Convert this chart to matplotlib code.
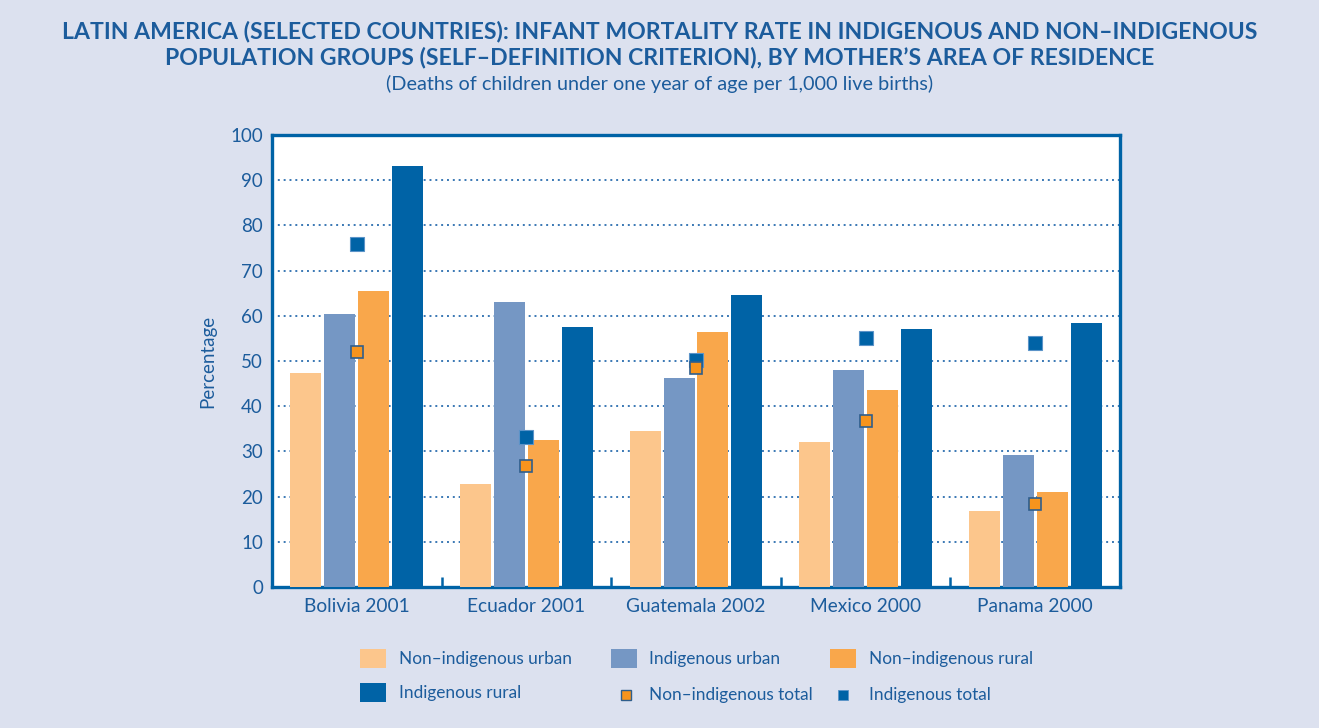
import matplotlib
matplotlib.use("Agg")
import matplotlib.pyplot as plt
from matplotlib.patches import Rectangle
from matplotlib.lines import Line2D
import numpy as np

countries = ["Bolivia 2001", "Ecuador 2001", "Guatemala 2002", "Mexico 2000", "Panama 2000"]
non_ind_urban = [47.3, 22.8, 34.5, 32.1, 16.8]
ind_urban = [60.4, 63.1, 46.2, 48.0, 29.2]
non_ind_rural = [65.5, 32.5, 56.4, 43.6, 21.0]
ind_rural = [93.1, 57.5, 64.6, 57.1, 58.4]
non_ind_total = [52.0, 26.8, 48.5, 36.7, 18.4]
ind_total = [75.9, 33.2, 50.2, 55.1, 54.0]
yticks = [0, 10, 20, 30, 40, 50, 60, 70, 80, 90, 100]

BG = "#DCE1EF"
DARK = "#0063A6"
TXT = "#1C5C9C"
C_NU = "#FCC68C"
C_IU = "#7597C4"
C_NR = "#F9A74B"
C_IR = "#0063A6"
C_NT = "#F7941D"

plt.rcParams['font.family'] = ['Lato', 'DejaVu Sans']

W, H = 1319, 728
fig = plt.figure(figsize=(W / 100, H / 100), dpi=100, facecolor=BG)
ax = fig.add_axes([272 / W, 1 - 587 / H, (1120 - 272) / W, (587 - 135) / H])
ax.set_facecolor("white")

x = np.arange(len(countries))
bw = 0.183
series = [(non_ind_urban, C_NU), (ind_urban, C_IU), (non_ind_rural, C_NR), (ind_rural, C_IR)]
offsets = [-0.3, -0.1, 0.1, 0.3]
for (vals, col), off in zip(series, offsets):
    ax.bar(x + off, vals, width=bw, color=col, zorder=3, linewidth=0)

ax.plot(x, ind_total, linestyle="none", marker="s", markersize=9.5,
        markerfacecolor=DARK, markeredgecolor="#5B93C8", markeredgewidth=0.8, zorder=5)
ax.plot(x, non_ind_total, linestyle="none", marker="s", markersize=9,
        markerfacecolor=C_NT, markeredgecolor="#2F5E8C", markeredgewidth=1.2, zorder=6)

ax.set_xlim(-0.5, len(countries) - 0.5)
ax.set_ylim(0, 100)
ax.set_yticks(yticks)
ax.set_yticklabels([str(v) for v in yticks])
ax.set_xticks(x)
ax.set_xticklabels(countries)
ax.set_xticks(np.arange(len(countries) - 1) + 0.5, minor=True)
ax.tick_params(axis="x", which="major", length=0, pad=8, labelsize=13.8, labelcolor=TXT)
ax.tick_params(axis="x", which="minor", direction="in", length=7, width=1.8, color=DARK)
ax.tick_params(axis="y", length=0, pad=6.5, labelsize=13.5, labelcolor=TXT)

ax.yaxis.grid(True, linestyle=(0, (1, 2.0)), linewidth=1.4, color="#3A78B4", zorder=1)
ax.set_axisbelow(True)
for s in ax.spines.values():
    s.set_color(DARK)
    s.set_linewidth(2.4)

ax.set_ylabel("Percentage", fontsize=13.5, color=TXT, labelpad=10)

fig.text(0.5, 1 - 32 / H, "LATIN AMERICA (SELECTED COUNTRIES): INFANT MORTALITY RATE IN INDIGENOUS AND NON–INDIGENOUS",
         ha="center", va="center", fontsize=16.6, fontweight="bold", color=TXT)
fig.text(0.5, 1 - 58 / H, "POPULATION GROUPS (SELF–DEFINITION CRITERION), BY MOTHER’S AREA OF RESIDENCE",
         ha="center", va="center", fontsize=16.6, fontweight="bold", color=TXT)
fig.text(0.5, 1 - 84 / H, "(Deaths of children under one year of age per 1,000 live births)",
         ha="center", va="center", fontsize=14.3, color=TXT)

# legend (drawn manually in figure pixel coordinates)
def px(xp, yp):
    return xp / W, 1 - yp / H

leg_items = [
    ("patch", C_NU, 360, 659, "Non–indigenous urban", 399),
    ("patch", C_IU, 611, 659, "Indigenous urban", 649),
    ("patch", C_NR, 830, 659, "Non–indigenous rural", 869),
    ("patch", C_IR, 360, 693, "Indigenous rural", 399),
    ("nt", C_NT, 626, 695, "Non–indigenous total", 649),
    ("it", DARK, 843, 695, "Indigenous total", 869),
]
for kind, col, xp, yp, label, tx in leg_items:
    if kind == "patch":
        x0, y0 = px(xp, yp + 9)
        fig.add_artist(Rectangle((x0, y0), 26 / W, 19 / H, transform=fig.transFigure,
                                 facecolor=col, edgecolor="none"))
    elif kind == "nt":
        fig.add_artist(Line2D([xp / W], [1 - yp / H], transform=fig.transFigure, marker="s",
                              markersize=7, markerfacecolor=C_NT, markeredgecolor="#2F5E8C",
                              markeredgewidth=1.0, linestyle="none"))
    else:
        fig.add_artist(Line2D([xp / W], [1 - yp / H], transform=fig.transFigure, marker="s",
                              markersize=7, markerfacecolor=DARK, markeredgecolor="#5B93C8",
                              markeredgewidth=0.6, linestyle="none"))
    fig.text(tx / W, 1 - yp / H, label, ha="left", va="center", fontsize=12.4, color=TXT)

fig.savefig("out.png", dpi=100, facecolor=BG)
